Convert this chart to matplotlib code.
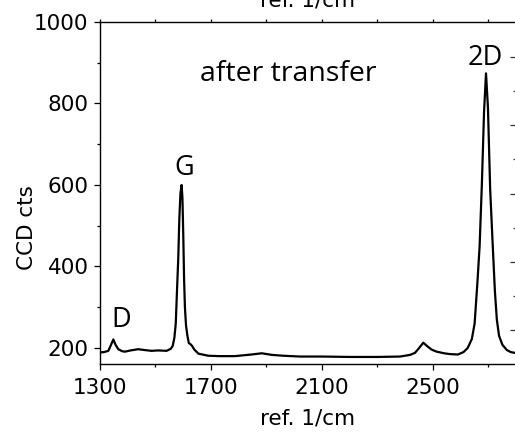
import matplotlib
matplotlib.use("Agg")
import matplotlib.pyplot as plt
from matplotlib.ticker import FixedLocator, NullFormatter

# Raman spectrum of graphene after transfer (Raman shift in 1/cm, CCD counts)
shift = [
    1300, 1315, 1330, 1340, 1348, 1356, 1366, 1380, 1390, 1410, 1438, 1460,
    1486, 1510, 1540, 1555, 1562, 1568, 1573, 1578, 1582, 1586, 1590, 1594,
    1597, 1600, 1603, 1606, 1610, 1615, 1620, 1625, 1632, 1640, 1655, 1690,
    1730, 1786, 1846, 1883, 1920, 1960, 2021, 2100, 2201, 2300, 2381, 2417,
    2435, 2450, 2465, 2480, 2495, 2513, 2540, 2561, 2590, 2610, 2625, 2640,
    2650, 2660, 2668, 2676, 2684, 2691, 2698, 2706, 2714, 2723, 2730, 2738,
    2750, 2766, 2780, 2795,
]
counts = [
    189, 190, 193, 208, 221, 208, 197, 192, 191, 194, 197, 195,
    193, 194, 193, 198, 205, 225, 260, 350, 420, 520, 580, 600,
    570, 480, 370, 300, 255, 230, 212, 210, 205, 196, 186, 181,
    180, 180, 184, 187, 183, 181, 179, 179, 178, 178, 179, 183,
    188, 200, 213, 204, 196, 191, 187, 185, 184, 190, 200, 222,
    260, 360, 450, 600, 780, 874, 790, 590, 470, 340, 270, 230,
    208, 195, 190, 188,
]

# Peak annotations: (label, shift, counts at baseline of the text)
peak_labels = ["D", "G", "2D"]
peak_label_x = [1378, 1604, 2689]
peak_label_y = [252, 624, 894]

x_major = [1300, 1700, 2100, 2500]
x_minor = [1500, 1900, 2300, 2700]
x_top = [1300, 1500, 1700, 1900, 2100, 2300, 2500, 2700]
y_major = [200, 400, 600, 800, 1000]
y_minor = [300, 500, 700, 900]

# neighbouring scale along the right border
side_major = [0, 1, 2, 3, 4]
side_minor = [0.5, 1.5, 2.5, 3.5]

W, H = 515, 432
fig = plt.figure(figsize=(W / 100, H / 100), dpi=100)
L, R, B, T = 100, 515, 364, 22
ax = fig.add_axes([L / W, (H - B) / H, (R - L) / W, (B - T) / H])

ax.plot(shift, counts, color="black", lw=1.6, solid_joinstyle="round")

ax.set_xlim(1300, 2795.5)
ax.set_ylim(160.7, 1000)

ax.xaxis.set_major_locator(FixedLocator(x_major))
ax.xaxis.set_minor_locator(FixedLocator(x_minor))
ax.yaxis.set_major_locator(FixedLocator(y_major))
ax.yaxis.set_minor_locator(FixedLocator(y_minor))

tick_font = 15.5
ax.tick_params(axis="both", which="major", direction="out", length=4.3,
               width=0.9, labelsize=tick_font)
ax.tick_params(axis="both", which="minor", direction="out", length=2.2,
               width=0.9)
ax.tick_params(axis="x", which="major", pad=6)
ax.tick_params(axis="y", which="major", pad=4)

for s in ["left", "bottom", "top"]:
    ax.spines[s].set_linewidth(1.0)
ax.spines["right"].set_visible(False)

ax.set_xlabel("ref. 1/cm", fontsize=tick_font, labelpad=7)
ax.set_ylabel("CCD cts", fontsize=tick_font)
ax.yaxis.set_label_coords(-0.152, 0.398)

# short ticks along the top border
top = ax.secondary_xaxis("top")
top.xaxis.set_major_locator(FixedLocator(x_top))
top.xaxis.set_major_formatter(NullFormatter())
top.tick_params(direction="out", length=2.2, width=0.9)
top.spines["top"].set_visible(False)

# ticks of the adjacent panel at the right border
side = ax.twinx()
side.set_ylim(-0.5, 4.515)
side.yaxis.set_major_locator(FixedLocator(side_major))
side.yaxis.set_minor_locator(FixedLocator(side_minor))
side.yaxis.set_major_formatter(NullFormatter())
side.yaxis.set_minor_formatter(NullFormatter())
side.tick_params(axis="y", which="major", direction="in", length=3.6,
                 width=0.9, color="#333333")
side.tick_params(axis="y", which="minor", direction="in", length=1.8,
                 width=0.9, color="#333333")
for s in side.spines.values():
    s.set_visible(False)

label_font = ["Open Sans", "DejaVu Sans"]
for txt, px, py in zip(peak_labels, peak_label_x, peak_label_y):
    ax.text(px, py, txt, ha="center", va="baseline", fontsize=19.5,
            family=label_font)
ax.text(1977, 855, "after transfer", ha="center", va="baseline",
        fontsize=20.5, family=label_font)

# axis title of the panel above, cut by the border
fig.text(308 / W, (H - 6) / H, "ref. 1/cm", ha="center", va="baseline",
         fontsize=tick_font)

fig.savefig("out.png", dpi=100)
